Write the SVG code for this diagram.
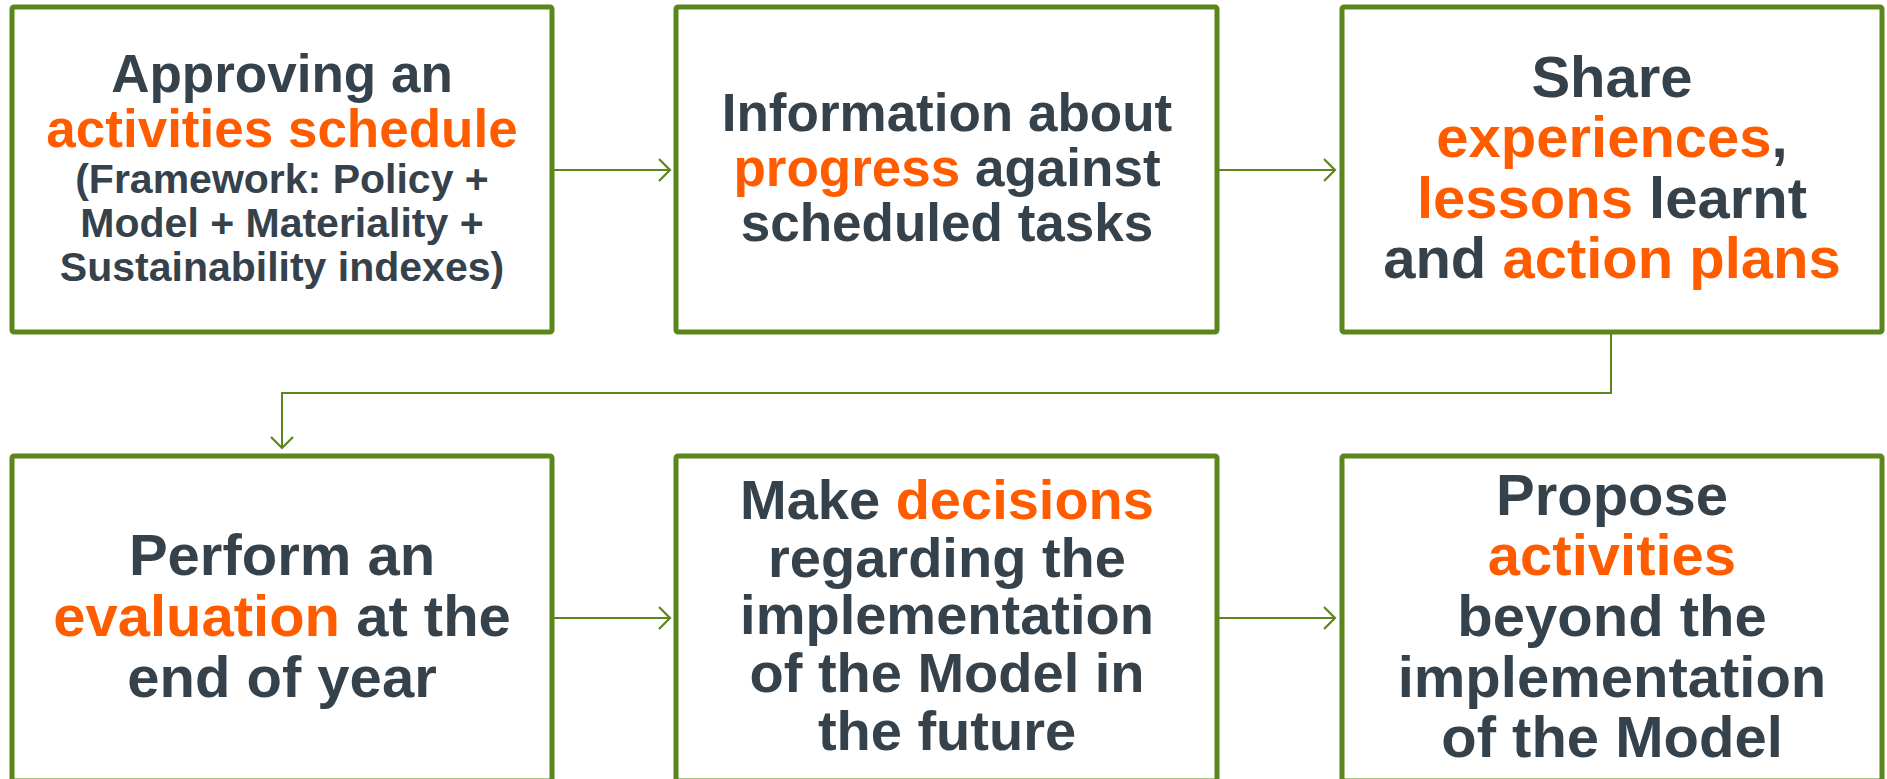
<svg xmlns="http://www.w3.org/2000/svg" width="1887" height="779" viewBox="0 0 1887 779">
<defs>
<style>
.box{fill:#ffffff;stroke:#5b861c;stroke-width:5}
.t{font-family:"Liberation Sans",Arial,sans-serif;font-weight:bold;fill:#36424b;text-anchor:middle}
.o{fill:#ff5c00}
.c{fill:none;stroke:#5b861c;stroke-width:2}
</style>
<marker id="ah" markerWidth="14" markerHeight="26" refX="12" refY="13" orient="auto" markerUnits="userSpaceOnUse">
<path d="M1,2 L12,13 L1,24" fill="none" stroke="#5b861c" stroke-width="2.2"/>
</marker>
</defs>
<rect width="1887" height="779" fill="#ffffff"/>
<g id="connectors">
<line class="c" x1="552" y1="170" x2="670" y2="170" marker-end="url(#ah)"/>
<line class="c" x1="1217" y1="170" x2="1335" y2="170" marker-end="url(#ah)"/>
<polyline class="c" points="1611,332 1611,393 282,393 282,448" marker-end="url(#ah)"/>
<line class="c" x1="552" y1="618" x2="670" y2="618" marker-end="url(#ah)"/>
<line class="c" x1="1217" y1="618" x2="1335" y2="618" marker-end="url(#ah)"/>
</g>
<g id="node1">
<rect class="box" x="12" y="7" width="540" height="325" rx="2"/>
<text class="t" font-size="53"><tspan x="282" y="92">Approving an</tspan><tspan x="282" y="147" class="o">activities schedule</tspan></text>
<text class="t" font-size="41"><tspan x="282" y="193">(Framework: Policy +</tspan><tspan x="282" y="237">Model + Materiality +</tspan><tspan x="282" y="281">Sustainability indexes)</tspan></text>
</g>
<g id="node2">
<rect class="box" x="676" y="7" width="541" height="325" rx="2"/>
<text class="t" font-size="53"><tspan x="947" y="131">Information about</tspan><tspan x="947" y="186"><tspan class="o">progress</tspan> against</tspan><tspan x="947" y="241">scheduled tasks</tspan></text>
</g>
<g id="node3">
<rect class="box" x="1342" y="7" width="540" height="325" rx="2"/>
<text class="t" font-size="58"><tspan x="1612" y="97">Share</tspan><tspan x="1612" y="157"><tspan class="o">experiences</tspan>,</tspan><tspan x="1612" y="218"><tspan class="o">lessons</tspan> learnt</tspan><tspan x="1612" y="278">and <tspan class="o">action plans</tspan></tspan></text>
</g>
<g id="node4">
<rect class="box" x="12" y="456" width="540" height="325" rx="2"/>
<text class="t" font-size="58"><tspan x="282" y="575">Perform an</tspan><tspan x="282" y="636"><tspan class="o">evaluation</tspan> at the</tspan><tspan x="282" y="697">end of year</tspan></text>
</g>
<g id="node5">
<rect class="box" x="676" y="456" width="541" height="325" rx="2"/>
<text class="t" font-size="56"><tspan x="947" y="519">Make <tspan class="o">decisions</tspan></tspan><tspan x="947" y="577">regarding the</tspan><tspan x="947" y="634">implementation</tspan><tspan x="947" y="692">of the Model in</tspan><tspan x="947" y="750">the future</tspan></text>
</g>
<g id="node6">
<rect class="box" x="1342" y="456" width="540" height="325" rx="2"/>
<text class="t" font-size="58"><tspan x="1612" y="515">Propose</tspan><tspan x="1612" y="575" class="o">activities</tspan><tspan x="1612" y="636">beyond the</tspan><tspan x="1612" y="697">implementation</tspan><tspan x="1612" y="757">of the Model</tspan></text>
</g>
</svg>
